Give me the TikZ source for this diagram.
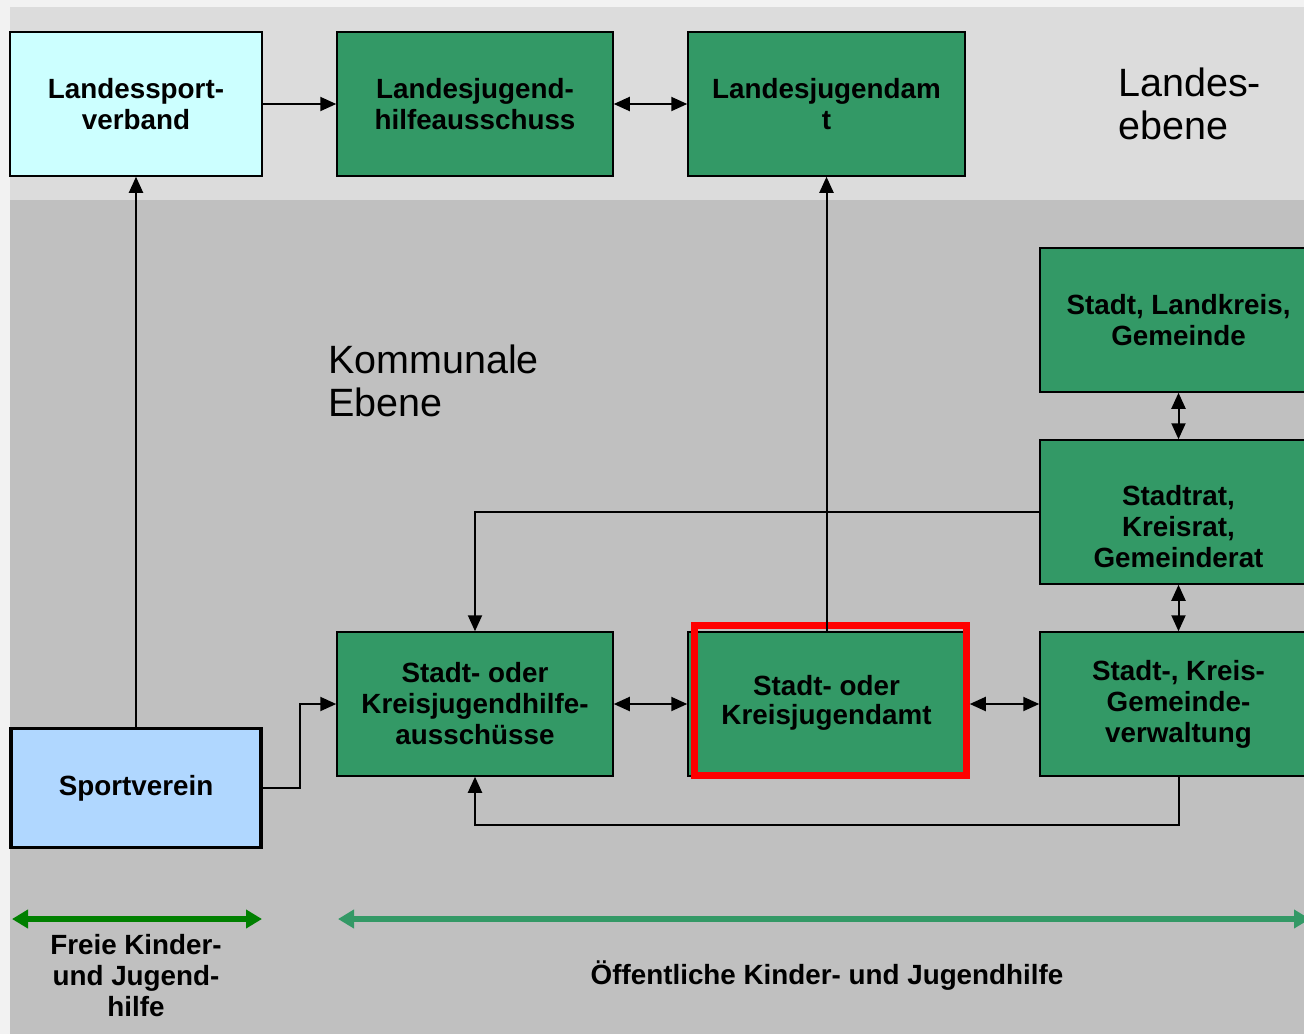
\documentclass[tikz,border=0pt]{standalone}
\usepackage{fontspec}
\setmainfont{Liberation Sans}
\usetikzlibrary{arrows.meta}
\definecolor{grn}{HTML}{339966}
\definecolor{dgrn}{HTML}{008000}
\definecolor{topband}{HTML}{DCDCDC}
\definecolor{lowband}{HTML}{C0C0C0}
\definecolor{outerbg}{HTML}{F2F2F2}
\definecolor{lcyan}{HTML}{CCFFFF}
\definecolor{lblue}{HTML}{B0D7FF}
\begin{document}
\begin{tikzpicture}[x=1pt,y=-1pt,
  boxfont/.style={font=\fontsize{27.8}{31}\selectfont\bfseries},
  box/.style={boxfont,draw=black,line width=1.5pt,fill=grn,minimum width=277pt,minimum height=144pt,inner sep=0pt,align=center},
  bigtext/.style={font=\fontsize{39.5}{43}\selectfont,align=left,anchor=west,inner sep=0pt},
  conn/.style={draw=black,line width=2pt,-{Triangle[length=16pt,width=14pt]}},
  dconn/.style={draw=black,line width=2pt,{Triangle[length=16pt,width=14pt]}-{Triangle[length=16pt,width=14pt]}},
  band/.style={line width=6pt,{Triangle[length=16pt,width=18pt]}-{Triangle[length=16pt,width=18pt]}}
]
\useasboundingbox (0,0) rectangle (1304,1034);
\clip (0,0) rectangle (1304,1034);
% backgrounds
\fill[outerbg] (0,0) rectangle (1304,1034);
\fill[topband] (10,7) rectangle (1304,200);
\fill[lowband] (10,200) rectangle (1304,1034);

% level labels
\node[bigtext] (landes) at (1118,104) {Landes-\\ebene};
\node[bigtext] (kommunal) at (328,381) {Kommunale\\Ebene};

% top row
\node[box,fill=lcyan,minimum width=252pt] (lsv) at (136,104) {Landessport-\\verband};
\node[box,minimum width=276pt] (ljha) at (475,104) {Landesjugend-\\hilfeausschuss};
\node[box] (lja) at (826.5,104) {Landesjugendam\\t};

% right column
\node[box] (slg) at (1178.5,320) {Stadt, Landkreis,\\Gemeinde};
\node[box,label={[boxfont,align=center,yshift=-15pt]center:Stadtrat,\\Kreisrat,\\Gemeinderat}] (srat) at (1178.5,512) {};
\node[box] (verw) at (1178.5,704) {Stadt-, Kreis-\\Gemeinde-\\verwaltung};

% lower row
\node[box,minimum width=276pt] (kjha) at (475,704) {Stadt- oder\\Kreisjugendhilfe-\\ausschüsse};
\node[box] (kja) at (826.5,704) {\raisebox{5pt}{\begin{tabular}{@{}c@{}}Stadt- oder\\[-2pt]Kreisjugendamt\end{tabular}}};
\draw[red,line width=7pt] (694,625) rectangle (966.5,775.5);

\node[box,fill=lblue,line width=3.5pt,minimum width=250pt,minimum height=119pt] (sv) at (136,788) {Sportverein};

% connectors
\draw[conn] (lsv.east) -- (ljha.west);
\draw[dconn] (ljha.east) -- (lja.west);
\draw[conn] (sv.north) -- (lsv.south);
\draw[conn] (kja.north) -- (lja.south);
\draw[conn] (srat.west) -| (kjha.north);
\draw[dconn] (slg.south) -- (srat.north);
\draw[dconn] (srat.south) -- (verw.north);
\draw[conn] (sv.east) -- ++(37,0) |- (kjha.west);
\draw[dconn] (kjha.east) -- (kja.west);
\draw[dconn,shorten <=4pt] (kja.east) -- (verw.west);
\draw[conn] (verw.south) -- ++(0,48) -| (kjha.south);

% bottom bands
\coordinate (fl) at (12,919);
\coordinate (fr) at (262,919);
\coordinate (ol) at (338,919);
\coordinate (or) at (1310,919);
\draw[band,dgrn] (fl) -- (fr);
\draw[band,grn] (ol) -- (or);
\node[boxfont,align=center] (freie) at (136,976) {Freie Kinder-\\und Jugend-\\hilfe};
\node[boxfont] (oeff) at (827,976) {Öffentliche Kinder- und Jugendhilfe};
\end{tikzpicture}
\end{document}
